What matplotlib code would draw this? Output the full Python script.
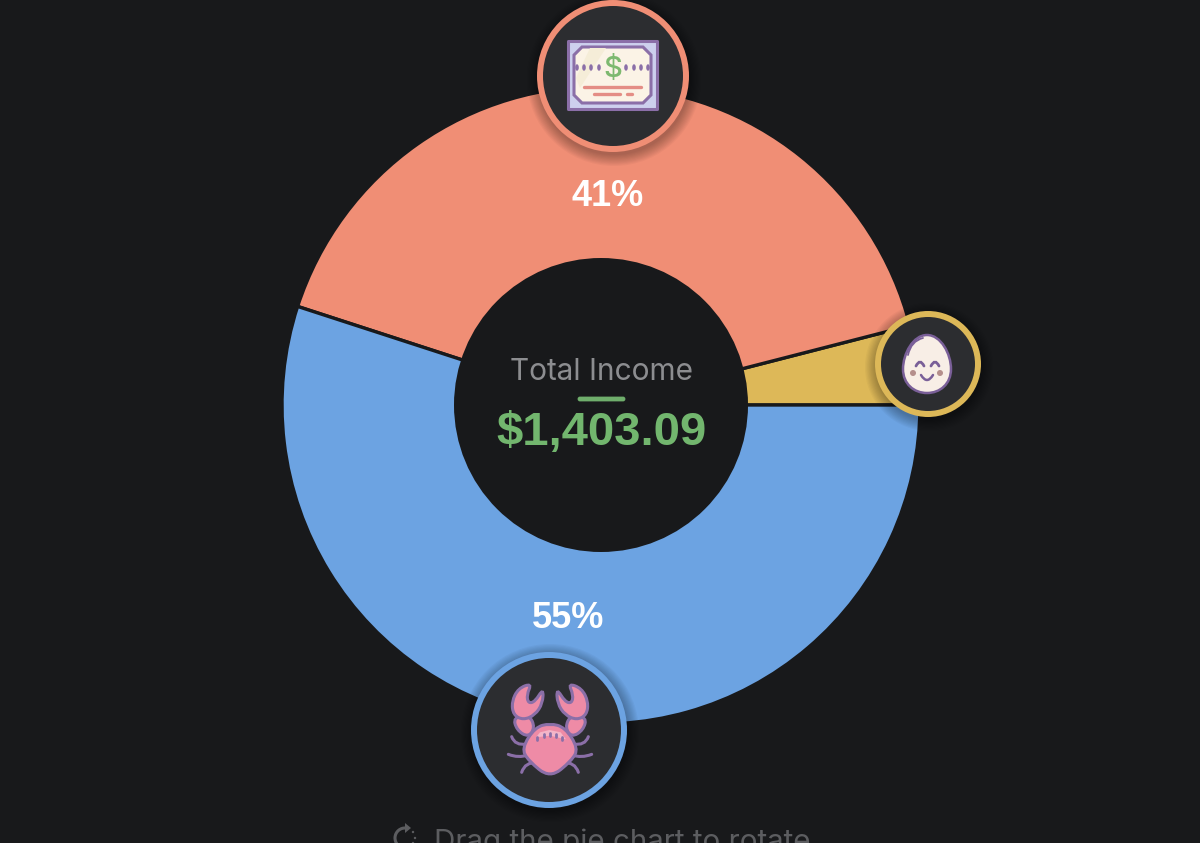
import matplotlib
matplotlib.use("Agg")
import matplotlib.pyplot as plt
from matplotlib.patches import Circle, Polygon, PathPatch, FancyBboxPatch, Arc, Ellipse
from matplotlib.path import Path

categories = ["Dividends", "Eggs", "Crab"]
shares = [4, 41, 55]
slice_colors = ["#DDB858", "#F08E75", "#6CA3E2"]
total_label = "Total Income"
total_value = "$1,403.09"
hint = "Drag the pie chart to rotate"

BG = "#18191B"
FACE = "#2C2D30"
PURPLE = "#8B6FA8"

plt.rcParams["font.family"] = ["Inter", "DejaVu Sans"]

fig = plt.figure(figsize=(12, 8.43), dpi=100, facecolor=BG)
ax = fig.add_axes([0, 0, 1, 1], facecolor=BG)

# y axis runs downward so everything below is in picture pixels
ax.pie(shares, colors=slice_colors, radius=319, center=(601, 405), startangle=0,
       counterclock=False, wedgeprops=dict(edgecolor=BG, linewidth=2.4))
ax.set_xlim(0, 1200)
ax.set_ylim(843, 0)
ax.set_aspect("equal")
ax.axis("off")

ax.add_patch(Circle((601, 405), 147, fc=BG, ec="none", zorder=3))

ax.text(608, 196, f"{shares[1]}%", color="white", fontsize=26, fontfamily="Liberation Sans", fontweight="bold",
        ha="center", va="center", zorder=4)
ax.text(568, 618, f"{shares[2]}%", color="white", fontsize=26, fontfamily="Liberation Sans", fontweight="bold",
        ha="center", va="center", zorder=4)
ax.text(601, 372, total_label, color="#8C8D90", fontsize=21.5, ha="center", va="center", zorder=4)
ax.add_patch(FancyBboxPatch((579, 398), 45, 2, boxstyle="round,pad=0,rounding_size=1",
                            fc="#6FAE6C", ec="#6FAE6C", lw=2, zorder=4))
ax.text(602, 433, total_value, color="#72B66E", fontsize=34, fontfamily="Liberation Sans", fontweight="bold",
        ha="center", va="center", zorder=4)
ax.text(622, 842, hint, color="#5C5D60", fontsize=21.3, ha="center", va="center", zorder=4)

# rotate hint icon
ax.add_patch(Arc((405, 838), 20, 20, theta1=90, theta2=275, color="#5C5D60", lw=2.2, zorder=4))
ax.add_patch(Polygon([(405, 823), (405, 833), (411, 828)], fc="#5C5D60", ec="none", zorder=4))
for x, y in [(413, 832), (415, 838), (413, 843)]:
    ax.add_patch(Circle((x, y), 1.2, fc="#5C5D60", ec="none", zorder=4))


def badge(cx, cy, r, color):
    # soft shadow
    for i in range(10):
        ax.add_patch(Circle((cx + 1, cy + 3), r + 11 - i * 1.2, fc="black", ec="none", alpha=0.03, zorder=5))
    ax.add_patch(Circle((cx, cy), r, fc=color, ec="none", zorder=6))
    ax.add_patch(Circle((cx, cy), r - 6, fc=FACE, ec="none", zorder=6.1))


def curve(pts, color=PURPLE, lw=2.2, z=7.5):
    # pts: start, control, end, control, end ...
    codes = [Path.MOVETO] + [Path.CURVE3] * (len(pts) - 1)
    ax.add_patch(PathPatch(Path(pts, codes), fc="none", ec=color, lw=lw, capstyle="round", zorder=z))


def blob(pts, fc, z):
    # closed smooth outline with the points as controls
    n = len(pts)
    mids = [((pts[i][0] + pts[(i + 1) % n][0]) / 2, (pts[i][1] + pts[(i + 1) % n][1]) / 2) for i in range(n)]
    verts = [mids[-1]]
    codes = [Path.MOVETO]
    for i in range(n):
        verts += [pts[i], mids[i]]
        codes += [Path.CURVE3, Path.CURVE3]
    ax.add_patch(PathPatch(Path(verts, codes), fc=fc, ec=PURPLE, lw=2.2, zorder=z))


badge(613, 76, 76, slice_colors[1])
badge(928, 364, 53, slice_colors[0])
badge(549, 730, 78, slice_colors[2])

# check icon
ax.add_patch(Polygon([(568, 41), (657, 41), (657, 109), (568, 109)], fc="#CDD0EE", ec=PURPLE, lw=2.2,
                     joinstyle="round", zorder=7))
ax.add_patch(Polygon([(582, 47), (643, 47), (651, 55), (651, 95), (643, 103), (582, 103), (574, 95), (574, 55)],
                     fc="#FBF3E6", ec=PURPLE, lw=2.2, zorder=7.1))
ax.add_patch(Polygon([(590, 48), (606, 48), (580, 88), (576, 78)], fc="#F5EDD8", ec="none", zorder=7.15))
for x in [577, 584, 591, 599, 626, 634, 641, 648]:
    ax.add_patch(Ellipse((x, 67.5), 3.6, 6.5, fc=PURPLE, ec="none", zorder=7.2))
ax.text(612.5, 69, "$", color="#7DB96F", fontsize=21, fontweight="medium", ha="center", va="center", zorder=7.2)
ax.plot([584, 641], [87, 87], color="#E48D85", lw=2.4, solid_capstyle="round", zorder=7.2)
ax.plot([594, 620], [93.5, 93.5], color="#E48D85", lw=2.4, solid_capstyle="round", zorder=7.2)
ax.plot([627, 632], [93.5, 93.5], color="#E48D85", lw=2.4, solid_capstyle="round", zorder=7.2)

# egg icon
EGG_LINE = "#7A5F98"
egg = [(927, 335), (941, 335), (951, 354), (951, 369), (951, 384), (940, 393), (927, 393),
       (914, 393), (903, 384), (903, 369), (903, 354), (913, 335), (927, 335)]
ax.add_patch(PathPatch(Path(egg, [Path.MOVETO] + [Path.CURVE4] * 12), fc="#F8EEE6", ec=EGG_LINE, lw=1.8, zorder=7))
curve([(908, 355), (911, 341), (923, 338)], color=EGG_LINE, lw=1.3)
curve([(916, 366), (920, 358), (924, 366)], color=EGG_LINE, lw=2)
curve([(931, 366), (935, 358), (939, 366)], color=EGG_LINE, lw=2)
curve([(921, 375), (927, 385), (933, 375)], color=EGG_LINE, lw=1.8)
for x in [913, 940]:
    ax.add_patch(Circle((x, 373), 3, fc="#B58F8C", ec="none", zorder=7.5))


# crab icon, points read in a 3x crop of the badge
def cp(x, y):
    return 460 + x / 3, 640 + y / 3


def mirror(pts):
    return [(540 - x, y) for x, y in pts]


CRAB = "#EE8BA6"
claw = [(215, 130), (175, 145), (155, 185), (160, 225), (190, 240), (225, 225), (248, 190), (250, 145),
        (225, 185), (205, 190), (200, 165)]
arm = [(160, 232), (170, 270), (205, 292), (225, 262), (208, 225)]
body = [(185, 325), (225, 262), (270, 250), (315, 262), (355, 325), (335, 362), (270, 415), (205, 362)]
for part in [arm, claw]:
    for pts in [part, mirror(part)]:
        blob([cp(*p) for p in pts], CRAB, 7)
blob([cp(*p) for p in body], CRAB, 7.1)
ax.add_patch(Polygon([cp(*p) for p in [(228, 292), (240, 277), (268, 270), (302, 277), (318, 298), (270, 287)]],
                     fc="#F4B5C8", ec="none", zorder=7.2))
for x, y in [(232, 295), (252, 287), (270, 284), (288, 287), (306, 295)]:
    ax.plot(*zip(cp(x, y - 5), cp(x, y + 4)), color=PURPLE, lw=2, solid_capstyle="round", zorder=7.3)
legs = [[(155, 290), (165, 318), (200, 312)], [(145, 343), (175, 355), (205, 345)], [(185, 397), (195, 365), (232, 368)]]
for leg in legs:
    for pts in [leg, mirror(leg)]:
        curve([cp(*p) for p in pts], lw=2.2, z=6.9)

fig.savefig("out.png", dpi=100, facecolor=BG)
